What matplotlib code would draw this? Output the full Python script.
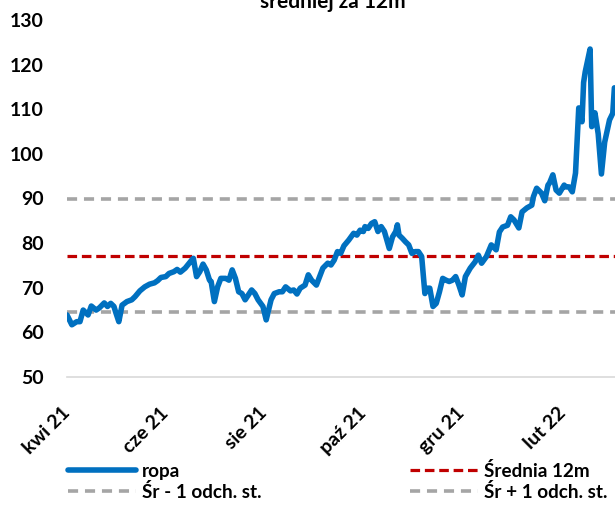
import pandas as pd
import matplotlib
matplotlib.use("Agg")
import matplotlib.pyplot as plt

plt.rcParams['font.family'] = ['Lato', 'DejaVu Sans']
plt.rcParams['font.weight'] = 'bold'

# dane
dates = [
    '2021-04-19', '2021-04-22', '2021-04-25', '2021-04-27', '2021-04-29', '2021-05-02', '2021-05-04',
    '2021-05-07', '2021-05-09', '2021-05-12', '2021-05-14', '2021-05-16', '2021-05-18', '2021-05-19',
    '2021-05-21', '2021-05-23', '2021-05-26', '2021-05-29', '2021-05-31', '2021-06-03', '2021-06-06',
    '2021-06-09', '2021-06-12', '2021-06-14', '2021-06-16', '2021-06-19', '2021-06-21', '2021-06-24',
    '2021-06-26', '2021-06-28', '2021-07-01', '2021-07-05', '2021-07-06', '2021-07-08', '2021-07-10',
    '2021-07-12', '2021-07-14', '2021-07-16', '2021-07-17', '2021-07-19', '2021-07-21', '2021-07-23',
    '2021-07-26', '2021-07-28', '2021-07-30', '2021-08-01', '2021-08-03', '2021-08-05', '2021-08-07',
    '2021-08-11', '2021-08-13', '2021-08-15', '2021-08-18', '2021-08-20', '2021-08-23', '2021-08-25',
    '2021-08-28', '2021-08-30', '2021-09-01', '2021-09-04', '2021-09-06', '2021-09-08', '2021-09-10',
    '2021-09-13', '2021-09-15', '2021-09-17', '2021-09-20', '2021-09-22', '2021-09-24', '2021-09-27',
    '2021-09-29', '2021-10-01', '2021-10-03', '2021-10-05', '2021-10-07', '2021-10-10', '2021-10-13',
    '2021-10-15', '2021-10-17', '2021-10-19', '2021-10-20', '2021-10-22', '2021-10-24', '2021-10-26',
    '2021-10-28', '2021-10-30', '2021-11-01', '2021-11-04', '2021-11-06', '2021-11-08', '2021-11-09',
    '2021-11-10', '2021-11-12', '2021-11-14', '2021-11-16', '2021-11-18', '2021-11-20', '2021-11-22',
    '2021-11-24', '2021-11-26', '2021-11-27', '2021-11-29', '2021-12-01', '2021-12-03', '2021-12-05',
    '2021-12-07', '2021-12-09', '2021-12-11', '2021-12-13', '2021-12-15', '2021-12-17', '2021-12-19',
    '2021-12-21', '2021-12-24', '2021-12-27', '2021-12-29', '2021-12-31', '2022-01-03', '2022-01-06',
    '2022-01-09', '2022-01-11', '2022-01-13', '2022-01-16', '2022-01-18', '2022-01-20', '2022-01-23',
    '2022-01-25', '2022-01-28', '2022-01-31', '2022-02-01', '2022-02-03', '2022-02-06', '2022-02-08',
    '2022-02-10', '2022-02-11', '2022-02-13', '2022-02-15', '2022-02-17', '2022-02-20', '2022-02-21',
    '2022-02-23', '2022-02-25', '2022-02-27', '2022-03-01', '2022-03-03', '2022-03-04', '2022-03-05',
    '2022-03-08', '2022-03-09', '2022-03-11', '2022-03-13', '2022-03-15', '2022-03-17', '2022-03-20',
    '2022-03-22', '2022-03-23',
]
ropa = [
    63.9, 61.7, 62.4, 62.4, 65.0, 63.9, 65.9,
    65.0, 65.5, 66.6, 65.8, 66.5, 65.8, 64.6,
    62.4, 66.1, 66.9, 67.3, 68.0, 69.3, 70.2,
    70.8, 71.1, 71.6, 72.3, 72.5, 73.2, 73.6,
    74.1, 73.5, 74.4, 76.2, 76.6, 72.5, 73.6,
    75.3, 74.0, 71.7, 71.4, 66.9, 70.2, 72.1,
    72.1, 71.7, 74.0, 72.1, 69.1, 68.7, 67.3,
    69.5, 68.7, 67.3, 65.8, 62.8, 67.3, 68.7,
    69.1, 69.1, 70.2, 69.3, 69.5, 68.6, 69.9,
    70.6, 72.9, 71.7, 70.6, 72.5, 74.4, 75.5,
    75.1, 76.2, 78.1, 77.7, 79.4, 80.7, 82.2,
    81.8, 82.9, 82.6, 83.7, 83.3, 84.4, 84.8,
    82.6, 83.7, 82.6, 78.8, 81.4, 82.6, 84.1,
    81.8, 81.1, 80.3, 79.6, 77.7, 78.1, 78.1,
    77.0, 68.7, 69.9, 69.9, 65.8, 66.5, 69.1,
    72.1, 71.7, 71.4, 71.7, 72.5, 70.6, 68.4,
    72.5, 74.4, 75.8, 77.3, 75.5, 77.0, 79.6,
    78.5, 82.5, 83.6, 84.0, 85.9, 85.2, 83.4,
    87.0, 87.9, 88.5, 90.4, 92.3, 91.2, 89.5,
    93.0, 93.5, 95.3, 91.9, 91.2, 93.0, 92.6,
    92.6, 91.5, 95.7, 110.3, 107.2, 116.0, 118.4,
    123.5, 106.1, 109.2, 104.5, 95.5, 102.6, 107.6,
    109.1, 114.8,
]
srednia = 77.2
odch = 12.7

tick_dates = ['2021-04-19', '2021-06-19', '2021-08-19', '2021-10-19', '2021-12-19', '2022-02-19']
tick_labels = ['kwi 21', 'cze 21', 'sie 21', 'paź 21', 'gru 21', 'lut 22']

df = pd.DataFrame({'data': pd.to_datetime(dates), 'ropa': ropa})

fig = plt.figure(figsize=(6.15, 5.05), dpi=100)
ax = fig.add_axes([67 / 615, 128 / 505, 549 / 615, 357 / 505])

l_ropa, = ax.plot(df['data'], df['ropa'], color='#0070C0', lw=4.0, solid_joinstyle='round',
                  solid_capstyle='round', label='ropa', zorder=3)
l_dol = ax.axhline(srednia - odch, color='#A5A5A5', lw=2.6, ls=(0, (2.8, 1.9)), label='Śr - 1 odch. st.')
l_sr = ax.axhline(srednia, color='#C00000', lw=2.3, ls=(0, (3, 1.5)), label='Średnia 12m')
l_gora = ax.axhline(srednia + odch, color='#A5A5A5', lw=2.6, ls=(0, (2.8, 1.9)), label='Śr + 1 odch. st.')

ax.set_xlim(pd.Timestamp('2021-04-19'), pd.Timestamp('2022-03-24'))
ax.set_ylim(50, 130)
ax.set_yticks(range(50, 131, 10))
ax.set_xticks(pd.to_datetime(tick_dates))
ax.set_xticklabels(tick_labels, rotation=45, ha='right', va='center', rotation_mode='anchor')
ax.tick_params(axis='both', length=0, labelsize=14)
ax.tick_params(axis='x', pad=24)
ax.tick_params(axis='y', pad=17)
for s in ['top', 'right', 'left']:
    ax.spines[s].set_visible(False)
ax.spines['bottom'].set_color('#D9D9D9')
ax.spines['bottom'].set_linewidth(1.2)

# tytuł ucięty u góry, jak w oryginale
fig.text(333 / 615, 1 - 8 / 505, 'średniej za 12m', ha='center', va='baseline', fontsize=15,
         fontweight='bold')

fig.legend(handles=[l_ropa, l_dol, l_sr, l_gora], ncol=2, loc='upper left',
           bbox_to_anchor=(68 / 615, 1 - 462 / 505), frameon=False, fontsize=13.6,
           handlelength=3.6, handletextpad=0.3, columnspacing=7.9, labelspacing=0.15,
           borderpad=0, borderaxespad=0)

plt.savefig('out.png', dpi=100)
